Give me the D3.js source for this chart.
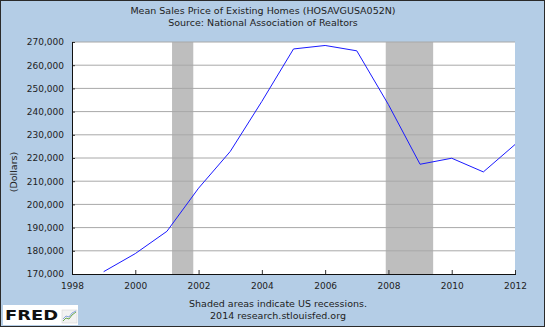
<!DOCTYPE html>
<html>
<head>
<meta charset="utf-8">
<script src="https://cdn.jsdelivr.net/npm/d3@7"></script>
<style>
html,body{margin:0;padding:0;background:#b4cde6;}
svg{display:block;}
text{font-family:"DejaVu Sans",Verdana,sans-serif;fill:#222;}
</style>
</head>
<body>
<svg id="chart" width="545" height="327"></svg>
<script>
const years = [1999,2000,2001,2002,2003,2004,2005,2006,2007,2008,2009,2010,2011,2012];
const prices = [171000,178800,188400,207000,222800,244400,267000,268500,266200,243000,217300,219900,214000,225800];
const yTicks = [170000,180000,190000,200000,210000,220000,230000,240000,250000,260000,270000];
const xTicks = [1998,2000,2002,2004,2006,2008,2010,2012];
const recessions = [["2001-03-01","2001-11-01"],["2007-12-01","2009-06-01"]];
const titleLines = ["Mean Sales Price of Existing Homes (HOSAVGUSA052N)","Source: National Association of Realtors"];
const footerLines = ["Shaded areas indicate US recessions.","2014 research.stlouisfed.org"];
const yLabel = "(Dollars)";

const W = 545, H = 327;
const L = 72, R = 515, T = 42, B = 274;
const svg = d3.select("#chart");

svg.append("rect").attr("x",0.5).attr("y",0.5).attr("width",W-1).attr("height",H-1)
  .attr("fill","#b4cde6").attr("stroke","#2a2a2a");

const decYear = d => { const dt = new Date(d); const y = dt.getUTCFullYear();
  return y + (Date.UTC(y,dt.getUTCMonth(),dt.getUTCDate()) - Date.UTC(y,0,1)) / (Date.UTC(y+1,0,1)-Date.UTC(y,0,1)); };

const x = d3.scaleLinear().domain([1998,2012]).range([L,R]);
const y = d3.scaleLinear().domain([170000,270000]).range([B,T]);

svg.append("rect").attr("x",L).attr("y",T).attr("width",R-L).attr("height",B-T).attr("fill","#ffffff");

// recessions
svg.append("g").selectAll("rect").data(recessions).join("rect")
  .attr("x",d=>x(decYear(d[0]))).attr("width",d=>x(decYear(d[1]))-x(decYear(d[0])))
  .attr("y",T).attr("height",B-T).attr("fill","#bebebe");

// gridlines
svg.append("g").selectAll("line").data(yTicks.slice(1)).join("line")
  .attr("x1",L).attr("x2",R).attr("y1",d=>y(d)).attr("y2",d=>y(d))
  .attr("stroke","#a8a8a8").attr("stroke-width",1);

// y axis
const yAxis = d3.axisLeft(y).tickValues(yTicks).tickFormat(d3.format(",")).tickSize(-3).tickPadding(8);
const gy = svg.append("g").attr("transform",`translate(${L},0)`).call(yAxis);
gy.select(".domain").remove();
gy.selectAll(".tick line").attr("stroke","#333");
gy.selectAll("text").attr("font-size","9px").attr("fill","#222").attr("font-family","DejaVu Sans");

// x axis
const xAxis = d3.axisBottom(x).tickValues(xTicks).tickFormat(d3.format("d")).tickSize(-4).tickPadding(9);
const gx = svg.append("g").attr("transform",`translate(0,${B})`).call(xAxis);
gx.select(".domain").remove();
gx.selectAll(".tick line").attr("stroke","#333");
gx.selectAll("text").attr("font-size","9px").attr("fill","#222").attr("font-family","DejaVu Sans");

// axis lines
svg.append("line").attr("x1",L+0.5).attr("x2",L+0.5).attr("y1",T).attr("y2",B+1).attr("stroke","#111");
svg.append("line").attr("x1",L).attr("x2",R+1).attr("y1",B+0.5).attr("y2",B+0.5).attr("stroke","#111");

// line
const line = d3.line().x((d,i)=>x(years[i])).y(d=>y(d));
svg.append("path").datum(prices).attr("d",line).attr("fill","none")
  .attr("stroke","#1a1aff").attr("stroke-width",1);

// titles
svg.append("g").selectAll("text").data(titleLines).join("text")
  .attr("x",263).attr("y",(d,i)=>14+i*12).attr("text-anchor","middle")
  .attr("font-size","9.5px").text(d=>d);

// y label
svg.append("text").attr("transform","translate(17,172) rotate(-90)")
  .attr("text-anchor","middle").attr("font-size","9.5px").text(yLabel);

// footer
svg.append("g").selectAll("text").data(footerLines).join("text")
  .attr("x",278).attr("y",(d,i)=>307+i*12).attr("text-anchor","middle")
  .attr("font-size","9.5px").text(d=>d);

// FRED logo
const lg = svg.append("g");
lg.append("rect").attr("x",3).attr("y",305).attr("width",75).attr("height",20).attr("fill","#ffffff");
lg.append("text").attr("x",5).attr("y",319.5).attr("font-size","14.5px").attr("font-weight","900")
  .attr("textLength",53).attr("lengthAdjust","spacingAndGlyphs").style("fill","#111").text("FRED");
lg.append("rect").attr("x",62).attr("y",310).attr("width",15).attr("height",13).attr("fill","#f2f2f2").attr("stroke","#cfcfcf").attr("stroke-width",0.5);
lg.append("polyline").attr("points","63,321 66,318 69,319 72,315 76,312").attr("fill","none").attr("stroke","#6aa84f").attr("stroke-width",1);
lg.append("polyline").attr("points","63,319 66,316 69,317 72,313 76,311").attr("fill","none").attr("stroke","#6b8fd6").attr("stroke-width",0.8);
</script>
</body>
</html>
